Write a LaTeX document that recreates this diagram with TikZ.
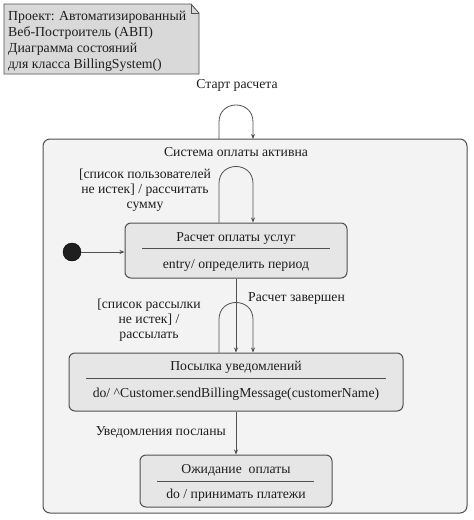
\documentclass[tikz,border=0pt]{standalone}
\usepackage{fontspec}
\setmainfont{Liberation Serif}
\usetikzlibrary{arrows.meta}
\definecolor{linec}{HTML}{505050}
\definecolor{txtc}{HTML}{1E1E1E}
\definecolor{compfill}{HTML}{F3F3F3}
\definecolor{statefill}{HTML}{E6E6E6}
\definecolor{notefill}{HTML}{D9D9D9}
\tikzset{
  statebox/.style={draw=linec, fill=statefill, rounded corners=6pt, line width=1pt, inner sep=0pt},
  compbox/.style={draw=linec, fill=compfill, rounded corners=7pt, line width=1pt, inner sep=0pt},
  lbl/.style={text=txtc, inner sep=0pt, font=\fontsize{13.7}{15}\selectfont, align=center},
  arr/.style={draw=linec, line width=0.8pt, -{Stealth[length=5pt,width=4pt]}},
  divider/.style={draw=linec, line width=0.8pt},
}
\begin{document}
\begin{tikzpicture}[x=1pt,y=-1pt]
\useasboundingbox[fill=white] (0,0) rectangle (474,520);
% note
\draw[draw=linec, fill=notefill, line width=0.8pt] (4,4) -- (191,4) -- (199,13) -- (199,74) -- (4,74) -- cycle;
\draw[draw=linec, line width=0.6pt] (191,4) -- (191,13) -- (199,13);
\node[lbl, anchor=west, align=left, font=\fontsize{13.8}{16}\selectfont] (note) at (8,41)
  {Проект: Автоматизированный\\Веб-Построитель (АВП)\\Диаграмма состояний\\для класса BillingSystem()};
% composite
\node[compbox, minimum width=424pt, minimum height=374pt] (comp) at (255,326) {};
\node[lbl] (comptitle) at (236,152) {Система оплаты активна};
% states
\node[statebox, minimum width=222pt, minimum height=55pt] (s1) at (236,250.5) {};
\node[statebox, minimum width=334pt, minimum height=58pt] (s2) at (236,382) {};
\node[statebox, minimum width=192pt, minimum height=52pt] (s3) at (236,481) {};
\draw[divider] (142,248) -- (330,248);
\draw[divider] (86,378) -- (386,378);
\draw[divider] (157,481) -- (314,481);
\node[lbl] (s1t) at (236,238) {Расчет оплаты услуг};
\node[lbl] (s1b) at (236,265) {entry/ определить период};
\node[lbl] (s2t) at (236,367) {Посылка уведомлений};
\node[lbl] (s2b) at (236,394) {do/ \^{}Customer.sendBillingMessage(customerName)};
\node[lbl] (s3t) at (236,470) {Ожидание\ \ оплаты};
\node[lbl] (s3b) at (236,495) {do / принимать платежи};
% initial
\node[circle, fill=black!88, draw=black, inner sep=0pt, minimum size=18pt] (init) at (72,252) {};
\draw[arr] (init) -- (init -| s1.west);
% composite self loop
\coordinate (tl) at (219,139);
\coordinate (tr) at (253,139);
\draw[arr] (tl) -- ++(0,-17) .. controls +(0,-22.7) and +(0,-22.7) .. ++(34,0) -- (tr);
\node[lbl] (startlbl) at (237,85) {Старт расчета};
% s1 self loop
\draw[arr] ([xshift=-17pt]s1.north) -- ++(0,-39) .. controls +(0,-22.7) and +(0,-22.7) .. ++(34,0) -- ([xshift=17pt]s1.north);
\node[lbl] (l1) at (145,190) {[список пользователей\\не истек] / рассчитать\\сумму};
% s1 -> s2
\draw[arr] (s1.south) -- (s2.north);
\node[lbl, anchor=west] (l2) at (248,298) {Расчет завершен};
% s2 self loop
\draw[arr] ([xshift=-17pt]s2.north) -- ++(0,-33) .. controls +(0,-22.7) and +(0,-22.7) .. ++(34,0) -- ([xshift=17pt]s2.north);
\node[lbl] (l3) at (149,320) {[список рассылки\\не истек] /\\рассылать};
% s2 -> s3
\draw[arr] (s2.south) -- (s3.north);
\node[lbl, anchor=east] (l4) at (226,432) {Уведомления посланы};
\end{tikzpicture}
\end{document}
